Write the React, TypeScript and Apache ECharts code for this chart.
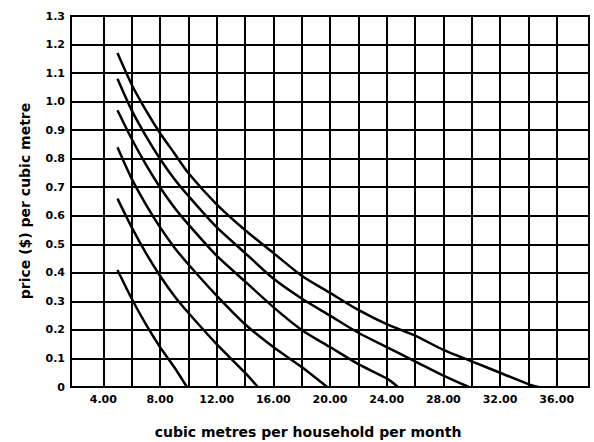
import React, { useEffect, useRef } from "react";
import * as echarts from "echarts";

// Axis values
const X_MIN = 1.72;
const X_MAX = 38.28;
const X_GRID = [4, 6, 8, 10, 12, 14, 16, 18, 20, 22, 24, 26, 28, 30, 32, 34, 36];
const X_LABELS = [4, 8, 12, 16, 20, 24, 28, 32, 36];
const Y_MIN = 0;
const Y_MAX = 1.3;
const Y_STEP = 0.1;

// Curves
const curve35X = [5, 6, 7, 8, 9, 10, 12, 14, 16, 18, 20, 22, 24, 26, 28, 30, 32, 34, 34.7];
const curve35Y = [1.17, 1.06, 0.97, 0.89, 0.82, 0.75, 0.64, 0.55, 0.47, 0.39, 0.33, 0.27, 0.22, 0.18, 0.13, 0.09, 0.05, 0.01, 0];

const curve30X = [5, 6, 7, 8, 9, 10, 12, 14, 16, 18, 20, 22, 24, 26, 28, 29.8];
const curve30Y = [1.08, 0.97, 0.88, 0.8, 0.73, 0.67, 0.56, 0.47, 0.38, 0.31, 0.25, 0.19, 0.14, 0.09, 0.04, 0];

const curve25X = [5, 6, 7, 8, 9, 10, 12, 14, 16, 18, 20, 22, 24, 24.8];
const curve25Y = [0.97, 0.87, 0.78, 0.7, 0.63, 0.57, 0.46, 0.37, 0.28, 0.2, 0.14, 0.08, 0.03, 0];

const curve20X = [5, 6, 7, 8, 9, 10, 12, 14, 16, 18, 19.8];
const curve20Y = [0.84, 0.73, 0.64, 0.56, 0.49, 0.43, 0.32, 0.22, 0.14, 0.07, 0];

const curve15X = [5, 6, 7, 8, 9, 10, 12, 14, 14.9];
const curve15Y = [0.66, 0.56, 0.47, 0.39, 0.32, 0.26, 0.15, 0.05, 0];

const curve10X = [5, 6, 7, 8, 9, 9.9];
const curve10Y = [0.41, 0.31, 0.22, 0.14, 0.07, 0];

const X_TITLE = "cubic metres per household per month";
const Y_TITLE = "price ($) per cubic metre";

const curves = [
  [curve35X, curve35Y],
  [curve30X, curve30Y],
  [curve25X, curve25Y],
  [curve20X, curve20Y],
  [curve15X, curve15Y],
  [curve10X, curve10Y],
];

const FONT = "DejaVu Sans";

export default function App() {
  const ref = useRef<HTMLDivElement>(null);
  useEffect(() => {
    const chart = echarts.init(ref.current!, null, { renderer: "svg" });
    const option: any = {
      animation: false,
      backgroundColor: "#fff",
      grid: {
        left: 71,
        right: 5,
        top: 16,
        bottom: 55,
        show: true,
        borderColor: "#000",
        borderWidth: 2,
        backgroundColor: "transparent",
      },
      xAxis: {
        type: "value",
        min: X_MIN,
        max: X_MAX,
        axisLine: { show: true, lineStyle: { color: "#000", width: 2 } },
        axisTick: { show: false, customValues: X_GRID },
        axisLabel: {
          customValues: X_LABELS,
          formatter: (v: number) => v.toFixed(2),
          color: "#000",
          fontFamily: FONT,
          fontWeight: "bold",
          fontSize: 11,
          margin: 7,
        },
        splitLine: { show: true, lineStyle: { color: "#000", width: 2 } },
      },
      yAxis: {
        type: "value",
        min: Y_MIN,
        max: Y_MAX,
        interval: Y_STEP,
        axisLine: { show: true, lineStyle: { color: "#000", width: 2 } },
        axisTick: { show: false },
        axisLabel: {
          formatter: (v: number) => (Math.abs(v) < 1e-9 ? "0" : v.toFixed(1)),
          color: "#000",
          fontFamily: FONT,
          fontWeight: "bold",
          fontSize: 11,
          margin: 6,
        },
        splitLine: { show: true, lineStyle: { color: "#000", width: 2 } },
      },
      graphic: [
        {
          type: "text",
          x: 308,
          y: 432,
          style: {
            text: X_TITLE,
            fill: "#000",
            font: `bold 14px "${FONT}"`,
            align: "center",
            verticalAlign: "middle",
          },
        },
        {
          type: "text",
          x: 25,
          y: 201,
          rotation: Math.PI / 2,
          style: {
            text: Y_TITLE,
            fill: "#000",
            font: `bold 14px "${FONT}"`,
            align: "center",
            verticalAlign: "middle",
          },
        },
      ],
      series: curves.map(([xs, ys]) => ({
        type: "line",
        data: xs.map((x, i) => [x, ys[i]]),
        showSymbol: false,
        smooth: 0.25,
        lineStyle: { color: "#000", width: 2.5 },
        z: 5,
      })),
    };
    chart.setOption(option);
    return () => chart.dispose();
  }, []);
  return (
    <div
      ref={ref}
      style={{ position: "fixed", left: 0, top: 0, width: 594, height: 442, background: "#fff" }}
    />
  );
}
